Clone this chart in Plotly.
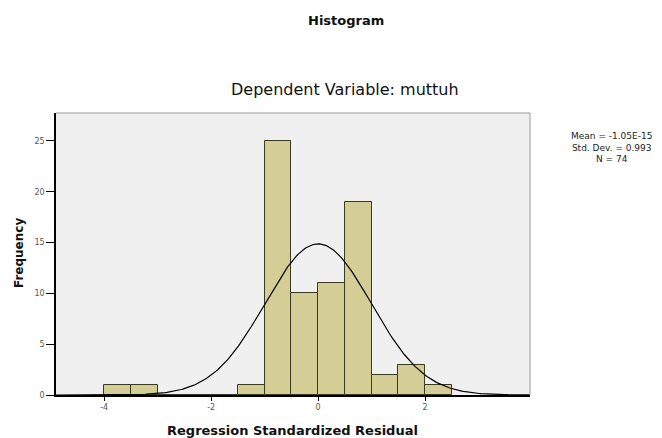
import numpy as np
import plotly.graph_objects as go

# Histogram data (bin left edges, counts)
bin_starts = [-4.0, -3.5, -3.0, -2.5, -2.0, -1.5, -1.0, -0.5, 0.0, 0.5, 1.0, 1.5, 2.0]
counts = [1, 1, 0, 0, 0, 1, 25, 10, 11, 19, 2, 3, 1]
bin_width = 0.5

# Summary statistics shown in the legend box
mean_val = 0.0
std_dev = 0.993
n_obs = 74
stats_lines = ["Mean = -1.05E-15", "Std. Dev. = 0.993", "N = 74"]

x_ticks = [-4, -2, 0, 2]
y_ticks = [0, 5, 10, 15, 20, 25]

bar_centers = [s + bin_width / 2 for s in bin_starts]

fig = go.Figure()
fig.add_trace(go.Bar(
    x=bar_centers, y=counts, width=bin_width,
    marker=dict(color="#D4CD96", line=dict(color="#3a3a20", width=1)),
    showlegend=False, hoverinfo="skip",
))

# Normal curve scaled to counts
xs = np.linspace(-4.9, 3.96, 300)
ys = n_obs * bin_width * np.exp(-0.5 * ((xs - mean_val) / std_dev) ** 2) / (std_dev * np.sqrt(2 * np.pi))
fig.add_trace(go.Scatter(x=xs, y=ys, mode="lines", line=dict(color="black", width=1.2),
                         showlegend=False, hoverinfo="skip"))

font_family = "DejaVu Sans, Verdana, sans-serif"

L, R, T, B = 56, 132, 113, 43
W, H = 662, 438
pw, ph = W - L - R, H - T - B


def px_x(p):
    return (p - L) / pw


def px_y(p):
    return (H - B - p) / ph


fig.update_layout(
    width=W, height=H,
    margin=dict(l=L, r=R, t=T, b=B, autoexpand=False),
    paper_bgcolor="white",
    plot_bgcolor="#F0F0F0",
    bargap=0,
    font=dict(family=font_family, size=9, color="#333"),
    xaxis=dict(range=[-4.9, 3.96], tickvals=x_ticks, ticktext=[str(v) for v in x_ticks],
               ticks="outside", ticklen=4, tickcolor="black", showgrid=False, zeroline=False,
               showline=True, linecolor="black", linewidth=1.5, mirror=False,
               tickfont=dict(size=8, color="#555")),
    yaxis=dict(range=[0, 27.75], tickvals=y_ticks, ticktext=[str(v) for v in y_ticks],
               ticks="outside", ticklen=8, tickcolor="black", showgrid=False, zeroline=False,
               showline=True, linecolor="black", linewidth=1.5,
               tickfont=dict(size=8, color="#555")),
    shapes=[
        dict(type="line", xref="paper", yref="paper", x0=0, x1=1, y0=1, y1=1,
             line=dict(color="#999", width=1)),
        dict(type="line", xref="paper", yref="paper", x0=1, x1=1, y0=0, y1=1,
             line=dict(color="#999", width=1)),
    ],
    annotations=[
        dict(text="<b>Histogram</b>", xref="paper", yref="paper", x=px_x(346), y=px_y(21),
             xanchor="center", yanchor="middle",
             showarrow=False, font=dict(size=13, color="#111", family=font_family)),
        dict(text="Dependent Variable: muttuh", xref="paper", yref="paper",
             x=px_x(345), y=px_y(89), xanchor="center", yanchor="middle",
             showarrow=False, font=dict(size=16, color="#111", family=font_family)),
        dict(text="<b>Regression Standardized Residual</b>", xref="paper", yref="paper",
             x=px_x(292), y=px_y(430), xanchor="center", yanchor="middle", showarrow=False,
             font=dict(size=13, color="#111", family=font_family)),
        dict(text="<b>Frequency</b>", xref="paper", yref="paper", x=px_x(19), y=px_y(253),
             xanchor="center", yanchor="middle", textangle=-90,
             showarrow=False, font=dict(size=12, color="#111", family=font_family)),
        dict(text="<br>".join(stats_lines), xref="paper", yref="paper",
             x=px_x(611), y=px_y(129), xanchor="center", yanchor="top",
             align="center", showarrow=False,
             font=dict(size=9, color="#222", family=font_family)),
    ],
)

fig.write_html("out.html", config={"displayModeBar": False},
               post_script="document.body.style.margin='0px';")
